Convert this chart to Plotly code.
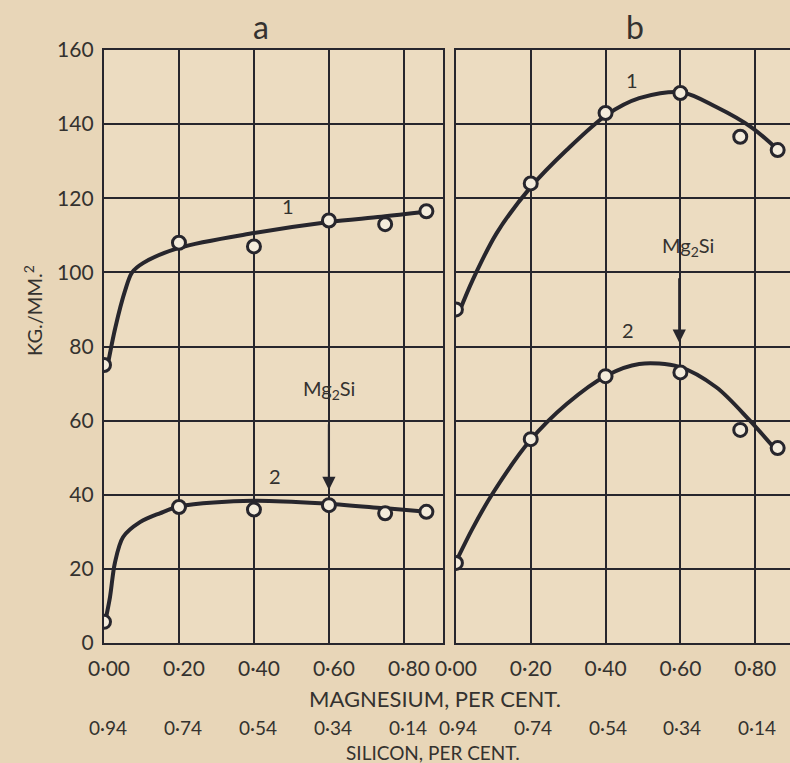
import plotly.graph_objects as go
from plotly.subplots import make_subplots

# ---------------- data ----------------
mg_ticks = [0.0, 0.2, 0.4, 0.6, 0.8]
mg_tick_labels = ["0·00", "0·20", "0·40", "0·60", "0·80"]
si_tick_labels = ["0·94", "0·74", "0·54", "0·34", "0·14"]
y_ticks = [0, 20, 40, 60, 80, 100, 120, 140, 160]

# panel a - measured points
a1_x = [0.00, 0.20, 0.40, 0.60, 0.75, 0.86]
a1_y = [75, 108, 107, 114, 113, 116.5]
a2_x = [0.00, 0.20, 0.40, 0.60, 0.75, 0.86]
a2_y = [5.7, 36.7, 36, 37.2, 35, 35.4]
# panel a - drawn curves
a1_cx = [0.008, 0.03, 0.056, 0.075, 0.104, 0.20, 0.40, 0.60, 0.74, 0.86]
a1_cy = [74, 85, 95, 100, 102.5, 106.6, 110.6, 113.6, 115, 116.4]
a2_cx = [0.003, 0.016, 0.029, 0.051, 0.096, 0.149, 0.203, 0.397, 0.595, 0.744, 0.861]
a2_cy = [5.7, 12.4, 21.6, 28.6, 32.6, 35, 36.9, 38.4, 37.6, 36.4, 35.4]

# panel b - measured points
b1_x = [0.00, 0.20, 0.40, 0.60, 0.76, 0.86]
b1_y = [90, 124, 143, 148.4, 136.6, 133]
b2_x = [0.00, 0.20, 0.40, 0.60, 0.76, 0.86]
b2_y = [21.6, 55, 72, 73, 57.5, 52.6]
# panel b - drawn curves
b1_cx = [0.011, 0.045, 0.109, 0.20, 0.296, 0.403, 0.49, 0.603, 0.696, 0.789, 0.856]
b1_cy = [89.9, 98, 110.6, 123, 133, 142.5, 147, 148.6, 144.6, 139.2, 133.5]
b2_cx = [0.0, 0.045, 0.096, 0.197, 0.296, 0.403, 0.49, 0.597, 0.696, 0.784, 0.851]
b2_cy = [21.9, 31, 40, 54.5, 64.5, 72.2, 75.3, 74.5, 69, 60.2, 52.6]

# ---------------- style ----------------
PAPER = "#e8d6b8"
PLOT = "#ecdcc1"
INK = "#27262d"
TXT = "#34322f"
FONT = "Lato"

fig = make_subplots(rows=1, cols=2, horizontal_spacing=0.0)

def add_panel(col, cx, cy, px, py):
    fig.add_trace(go.Scatter(x=cx, y=cy, mode="lines",
                             line=dict(color=INK, width=4, shape="spline", smoothing=0.9),
                             hoverinfo="skip", showlegend=False), row=1, col=col)
    fig.add_trace(go.Scatter(x=px, y=py, mode="markers",
                             marker=dict(symbol="circle", size=13, color="#f4ecdc",
                                         line=dict(color=INK, width=3)),
                             showlegend=False), row=1, col=col)

add_panel(1, a1_cx, a1_cy, a1_x, a1_y)
add_panel(1, a2_cx, a2_cy, a2_x, a2_y)
add_panel(2, b1_cx, b1_cy, b1_x, b1_y)
add_panel(2, b2_cx, b2_cy, b2_x, b2_y)

axis_common = dict(showgrid=True, gridcolor=INK, gridwidth=2, zeroline=False,
                   linecolor=INK, linewidth=2.4, ticks="",
                   tickfont=dict(family=FONT, size=21, color=TXT))

fig.update_xaxes(axis_common, tickvals=mg_ticks, ticktext=mg_tick_labels,
                 showline=True, mirror=True, ticklabelstandoff=6)
fig.update_xaxes(range=[0, 0.904], domain=[0, 0.494], ticklabelshift=5, row=1, col=1)
fig.update_xaxes(range=[0, 0.893], domain=[0.513, 1.0], row=1, col=2)

fig.update_yaxes(axis_common, tickvals=y_ticks, range=[0, 160], showline=True)
fig.update_yaxes(mirror=True, row=1, col=1, ticklabelstandoff=4)
fig.update_yaxes(showticklabels=False, mirror=False, row=1, col=2)

annotations = []
# panel titles
annotations.append(dict(text="a", x=0.42, xref="x", y=1, yref="paper", yshift=24,
                        yanchor="middle", showarrow=False,
                        font=dict(family=FONT, size=32, color=TXT)))
annotations.append(dict(text="b", x=0.48, xref="x2", y=1, yref="paper", yshift=24,
                        yanchor="middle", showarrow=False,
                        font=dict(family=FONT, size=32, color=TXT)))
# curve labels
for xr, yr, xv, yv, t in [("x", "y", 0.49, 118, "1"), ("x", "y", 0.456, 45, "2"),
                          ("x2", "y2", 0.47, 152, "1"), ("x2", "y2", 0.46, 84.5, "2")]:
    annotations.append(dict(text=t, x=xv, y=yv, xref=xr, yref=yr, showarrow=False,
                            font=dict(family=FONT, size=20, color=TXT)))
# Mg2Si labels with arrows
annotations.append(dict(text="Mg<sub>2</sub>Si", x=0.60, y=68.5, xref="x", yref="y",
                        showarrow=False, font=dict(family=FONT, size=20, color=TXT)))
annotations.append(dict(text="", x=0.60, y=41.3, xref="x", yref="y",
                        ax=0.60, ay=59.4, axref="x", ayref="y", showarrow=True,
                        arrowhead=2, arrowsize=1.2, arrowwidth=2.2, arrowcolor=INK))
annotations.append(dict(text="Mg<sub>2</sub>Si", x=0.62, y=107, xref="x2", yref="y2",
                        showarrow=False, font=dict(family=FONT, size=20, color=TXT)))
annotations.append(dict(text="", x=0.597, y=81, xref="x2", yref="y2",
                        ax=0.597, ay=98.8, axref="x2", ayref="y2", showarrow=True,
                        arrowhead=2, arrowsize=1.2, arrowwidth=2.2, arrowcolor=INK))
# silicon tick labels
for xr, shift in [("x", 4), ("x2", 2)]:
    for xv, t in zip(mg_ticks, si_tick_labels):
        annotations.append(dict(text=t, x=xv, xref=xr, xshift=shift, y=0, yref="paper",
                                yshift=-84, yanchor="middle", showarrow=False,
                                font=dict(family=FONT, size=19, color=TXT)))
# axis titles
annotations.append(dict(text="MAGNESIUM, PER CENT.", x=0.5, xref="paper", xshift=-12,
                        y=0, yref="paper", yshift=-55, yanchor="middle", showarrow=False,
                        font=dict(family=FONT, size=22, color=TXT)))
annotations.append(dict(text="SILICON, PER CENT.", x=0.5, xref="paper", xshift=-14,
                        y=0, yref="paper", yshift=-109, yanchor="middle", showarrow=False,
                        font=dict(family=FONT, size=19, color=TXT)))
annotations.append(dict(text="KG./MM.<sup>2</sup>", x=0, xref="paper", xshift=-71,
                        xanchor="center", y=0.56, yref="paper", yanchor="middle",
                        textangle=-90, showarrow=False,
                        font=dict(family=FONT, size=20, color=TXT)))

fig.update_layout(width=790, height=763, paper_bgcolor=PAPER, plot_bgcolor=PLOT,
                  margin=dict(l=104, r=0, t=50, b=120), annotations=annotations,
                  showlegend=False)

fig.write_html("out.html", config={"displayModeBar": False},
               post_script="document.body.style.margin='0';document.body.style.overflow='hidden';")
